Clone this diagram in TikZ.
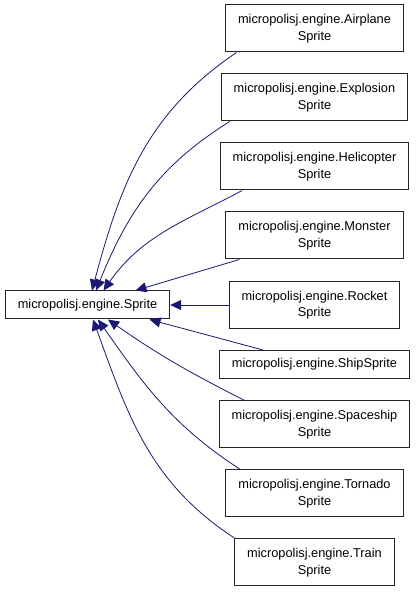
\documentclass[tikz,border=0pt]{standalone}
\usepackage{fontspec}
\setmainfont{Liberation Sans}
\usetikzlibrary{arrows.meta}
\definecolor{edgeblue}{RGB}{25,25,112}

\begin{document}
\begin{tikzpicture}[x=1pt, y=1pt,
  cls/.style={draw=black!85, line width=1pt, align=center, inner xsep=12.5pt,
    inner ysep=0pt, font=\fontsize{12.8}{16.5}\selectfont},
  twoline/.style={cls, minimum height=47pt},
  oneline/.style={cls, minimum height=28pt},
  inh/.style={draw=edgeblue, line width=0.8pt, -{Triangle[length=11pt,width=10pt]}}]

\useasboundingbox (0,0) rectangle (416,595);

% Base class, left
\node[oneline] (sprite) at (87.5,290) {micropolisj.engine.Sprite};

% Derived classes, right column
\node[twoline] (air)   at (314.5,566.5) {micropolisj.engine.Airplane\\Sprite};
\node[twoline] (expl)  at (314.5,497.5) {micropolisj.engine.Explosion\\Sprite};
\node[twoline] (heli)  at (314.5,428.5) {micropolisj.engine.Helicopter\\Sprite};
\node[twoline] (mon)   at (314.5,359.5) {micropolisj.engine.Monster\\Sprite};
\node[twoline] (rock)  at (314.5,290)   {micropolisj.engine.Rocket\\Sprite};
\node[oneline] (ship)  at (314.5,230.5) {micropolisj.engine.ShipSprite};
\node[twoline] (space) at (314.5,170.5) {micropolisj.engine.Spaceship\\Sprite};
\node[twoline] (torn)  at (314.5,101.5) {micropolisj.engine.Tornado\\Sprite};
\node[twoline] (train) at (314.5,32.5)  {micropolisj.engine.Train\\Sprite};

% Inheritance edges into the top of the base class
\draw[inh] ([xshift=11.5pt]air.south west) to[out=214, in=75] ([xshift=4.5pt]sprite.north);
\draw[inh] ([xshift=9pt]expl.south west) to[out=212, in=68] ([xshift=8.5pt]sprite.north);
\draw[inh] ([xshift=22.5pt]heli.south west) to[out=208, in=55] ([xshift=16pt]sprite.north);
\draw[inh] ([xshift=14pt]mon.south west) -- ([xshift=48pt]sprite.north);

% Straight into the side
\draw[inh] (rock.west) -- (sprite.east);

% Inheritance edges into the bottom of the base class
\draw[inh] ([xshift=44pt]ship.north west) -- ([xshift=62pt]sprite.south);
\draw[inh] ([xshift=26pt]space.north west) to[out=153, in=-35] ([xshift=20.5pt]sprite.south);
\draw[inh] ([xshift=15pt]torn.north west) to[out=147, in=-55] ([xshift=10.5pt]sprite.south);
\draw[inh] ([xshift=1pt]train.north west) to[out=147, in=-70] ([xshift=5.5pt]sprite.south);

\end{tikzpicture}
\end{document}
